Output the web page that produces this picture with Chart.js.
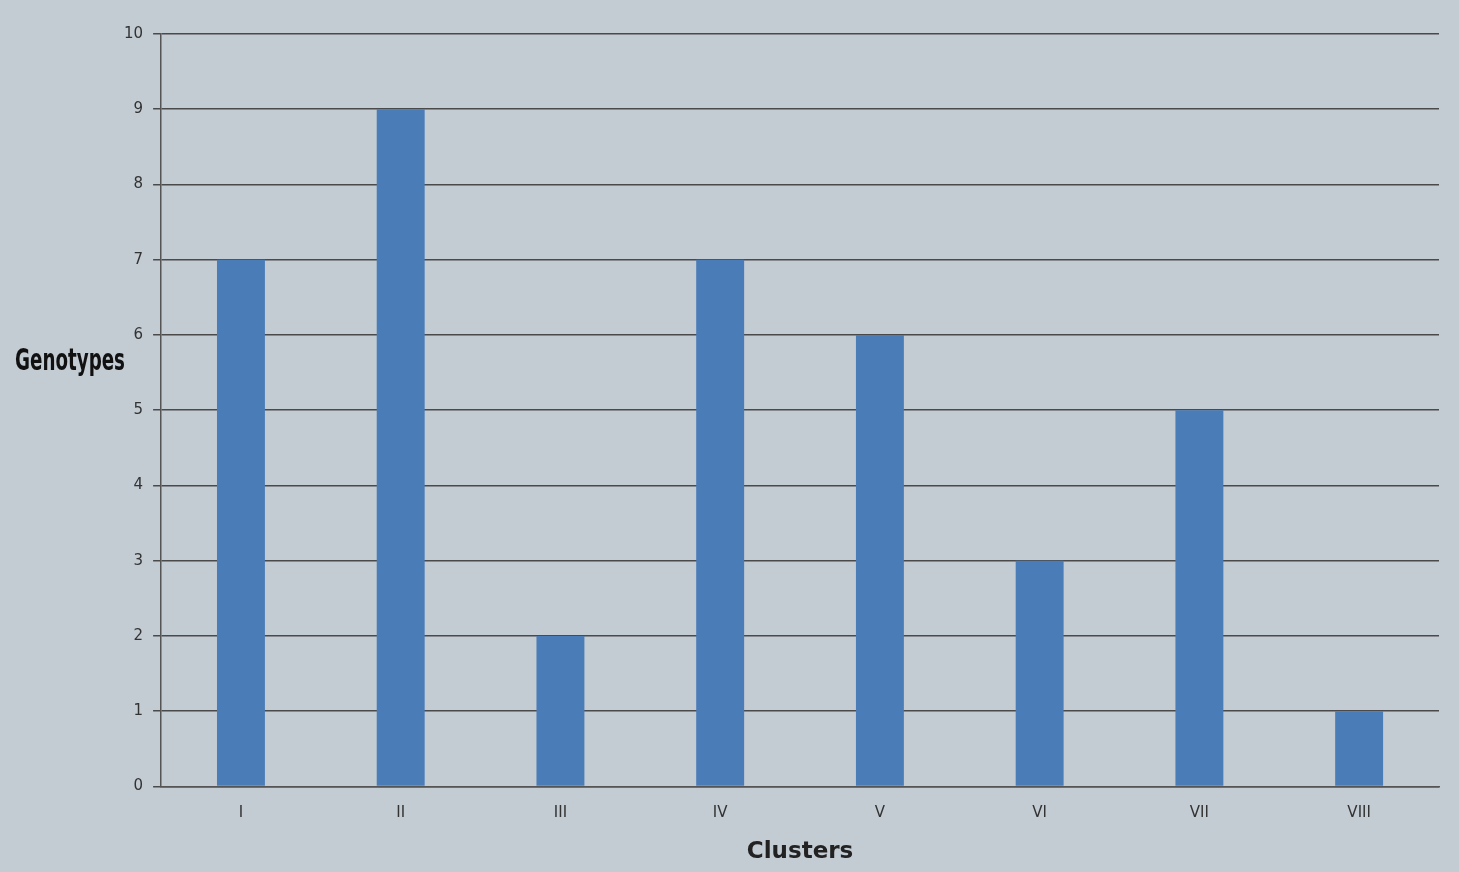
<!DOCTYPE html>
<html>
<head>
<meta charset="utf-8">
<script src="https://cdn.jsdelivr.net/npm/chart.js@4"></script>
<style>
  html, body { margin: 0; padding: 0; background: #c3cbd3; }
  #wrap { width: 1459px; height: 872px; position: relative; }
</style>
</head>
<body>
<div id="wrap"><canvas id="myChart" width="1459" height="872"></canvas></div>
<script>
'use strict';

var clusters = ['I', 'II', 'III', 'IV', 'V', 'VI', 'VII', 'VIII'];
var genotypes = [7, 9, 2, 7, 6, 3, 5, 1];
var yTicks = [0, 1, 2, 3, 4, 5, 6, 7, 8, 9, 10];

// horizontal y axis title, left of the tick labels (squeezed to look condensed)
var yTitlePlugin = {
    id: 'yTitle',
    afterDraw: function (c) {
        var g = c.ctx;
        var area = c.chartArea;
        g.save();
        g.fillStyle = '#111';
        g.font = 'bold 31px "DejaVu Sans Condensed", "Liberation Sans", sans-serif';
        g.textAlign = 'left';
        g.textBaseline = 'middle';
        g.fillText('Genotypes', 15, (area.top + area.bottom) / 2 - 48, 110);
        g.restore();
    }
};

var ctx = document.getElementById('myChart');

var chart = new Chart(ctx, {
    type: 'bar',
    data: {
        labels: clusters,
        datasets: [{
            label: 'Genotypes',
            backgroundColor: '#4a7cb8',
            data: genotypes,
            barPercentage: 0.3,
            categoryPercentage: 1
        }]
    },
    plugins: [yTitlePlugin],
    options: {
        responsive: false,
        animation: false,
        layout: { padding: { top: 34, right: 20, bottom: 2, left: 114 } },
        plugins: {
            legend: { display: false },
            tooltip: { enabled: false }
        },
        scales: {
            x: {
                grid: { display: false },
                border: { color: '#555', width: 1.5 },
                ticks: { color: '#333', font: { family: 'DejaVu Sans', size: 15 }, padding: 10 },
                title: {
                    display: true,
                    text: 'Clusters',
                    color: '#222',
                    font: { family: 'DejaVu Sans', size: 23, weight: 'bold' },
                    padding: { top: 6 }
                }
            },
            y: {
                min: 0,
                max: 10,
                afterBuildTicks: function (axis) {
                    axis.ticks = yTicks.map(function (v) { return { value: v }; });
                },
                grid: { color: '#4a4a4a', lineWidth: 1.5, drawTicks: true, tickLength: 8 },
                border: { color: '#555', width: 1.5 },
                ticks: { color: '#333', font: { family: 'DejaVu Sans', size: 15 }, padding: 10 }
            }
        }
    }
});
</script>
</body>
</html>
